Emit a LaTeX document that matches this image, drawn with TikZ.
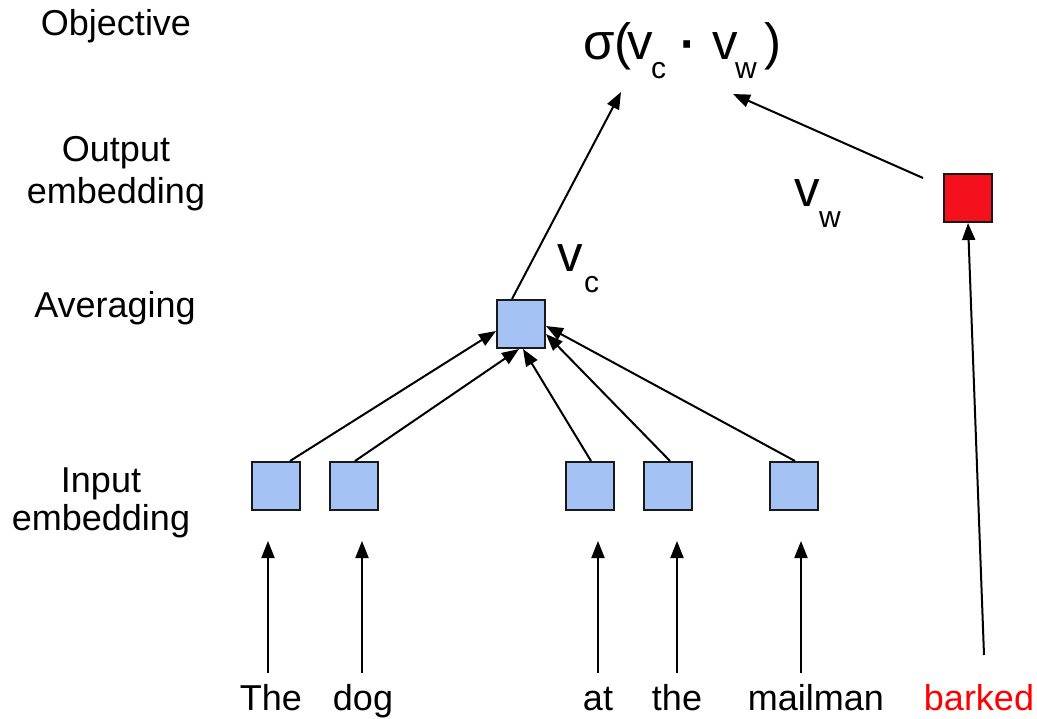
\documentclass[tikz,border=0pt]{standalone}
\usepackage{fontspec}
\setmainfont{Liberation Sans}
\usetikzlibrary{arrows.meta}
\definecolor{boxblue}{HTML}{A4C2F4}
\definecolor{wordred}{HTML}{FF0000}
\definecolor{boxred}{HTML}{F5101E}
\begin{document}
\begin{tikzpicture}[x=1pt, y=-1pt,
  txt/.style={font=\fontsize{36}{42}\selectfont, inner sep=0pt, anchor=base},
  big/.style={font=\fontsize{51}{60}\selectfont, inner sep=0pt, anchor=base west},
  sub/.style={font=\fontsize{30}{34}\selectfont, inner sep=0pt, anchor=base west},
  vecbox/.style={draw=black!90, line width=2pt, minimum size=48pt, inner sep=0pt, fill=boxblue},
  arr/.style={-{Triangle[length=17pt,width=13pt]}, line width=2pt}]
\useasboundingbox (0,0) rectangle (1037,719);

% layer labels
\node[txt] (lObj)  at (116,36)  {Objective};
\node[txt] (lOut1) at (116,162) {Output};
\node[txt] (lOut2) at (116,204) {embedding};
\node[txt] (lAvg)  at (115,318) {Averaging};
\node[txt] (lIn1)  at (101,492) {Input};
\node[txt] (lIn2)  at (101,530) {embedding};

% objective sigma(v_c . v_w)
\node[big] (sg)  at (583,60) {σ(};
\node[big] (fv1) at (627,60) {v};
\node[sub] (fc)  at (651,79) {c};
\node[font=\fontsize{70}{80}\selectfont, inner sep=0pt] (fdot) at (687,52) {·};
\node[big] (fv2) at (712,60) {v};
\node[sub] (fw)  at (735,79) {w};
\node[big] (rp)  at (764,60) {)};
\coordinate (objL) at (621,92);
\coordinate (objR) at (733,94);

% vector labels
\node[big] (vc)  at (557,272) {v};
\node[sub] (vcs) at (584,293) {c};
\node[big] (vw)  at (794,207) {v};
\node[sub] (vws) at (819,228) {w};

% embedding boxes
\node[vecbox] (avg) at (521,324) {};
\node[vecbox, fill=boxred] (out) at (968,198) {};
\node[vecbox] (in1) at (275.5,486) {};
\node[vecbox] (in2) at (354,486) {};
\node[vecbox] (in3) at (590,486) {};
\node[vecbox] (in4) at (668,486) {};
\node[vecbox] (in5) at (794,486) {};

% context words and target word
\node[txt] (wThe) at (271,710) {The};
\node[txt] (wDog) at (363,710) {dog};
\node[txt] (wAt)  at (598,710) {at};
\node[txt] (wthe) at (677,710) {the};
\node[txt] (wMail) at (816,710) {mailman};
\node[txt, text=wordred] (wBark) at (979,710) {barked};

% words to input embeddings
\draw[arr] ([xshift=-3pt,yshift=37pt]wThe.base)  -- ([xshift=-7.5pt,yshift=-30pt]in1.south);
\draw[arr] ([xshift=-1pt,yshift=37pt]wDog.base)  -- ([xshift=8pt,yshift=-30pt]in2.south);
\draw[arr] ([yshift=37pt]wAt.base)               -- ([xshift=8pt,yshift=-30pt]in3.south);
\draw[arr] ([yshift=37pt]wthe.base)              -- ([xshift=9pt,yshift=-30pt]in4.south);
\draw[arr] ([xshift=-15pt,yshift=37pt]wMail.base) -- ([xshift=7pt,yshift=-30pt]in5.south);
\draw[arr] ([xshift=5pt,yshift=55pt]wBark.base)  -- (out.south);

% input embeddings to the average
\draw[arr] ([xshift=14.5pt]in1.north) -- ([yshift=-7pt]avg.west);
\draw[arr] ([xshift=1pt]in2.north)    -- ([xshift=-2pt]avg.south);
\draw[arr] ([xshift=1pt]in3.north)    -- ([xshift=2pt]avg.south);
\draw[arr] ([xshift=2pt]in4.north)    -- ([yshift=-10pt]avg.east);
\draw[arr] ([xshift=1pt]in5.north)    -- ([yshift=-2pt]avg.east);

% to the objective
\draw[arr] ([xshift=-9pt]avg.north) -- (objL);
\draw[arr] ([xshift=-20pt,yshift=20pt]out.west) -- (objR);
\end{tikzpicture}
\end{document}
